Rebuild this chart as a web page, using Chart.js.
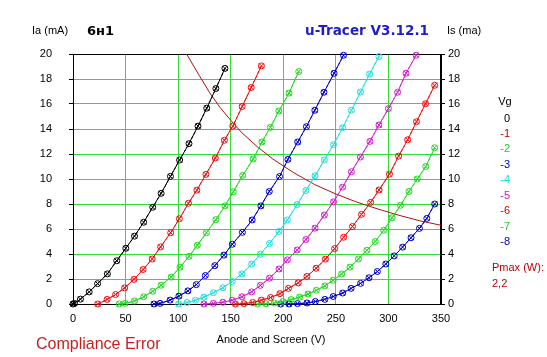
<!DOCTYPE html>
<html><head><meta charset="utf-8">
<script src="https://cdn.jsdelivr.net/npm/chart.js@4.4.1/dist/chart.umd.min.js"></script>
<style>html,body{margin:0;padding:0;background:#fff;}canvas{display:block;}</style>
</head><body>
<canvas id="c" width="547" height="357"></canvas>
<script>
// ---- data (Anode/screen voltage V, current mA) ----
const xTicks = [0, 50, 100, 150, 200, 250, 300, 350];
const yTicks = [0, 2, 4, 6, 8, 10, 12, 14, 16, 18, 20];
const vgLabels = ['0', '-1', '-2', '-3', '-4', '-5', '-6', '-7', '-8'];
const pmaxLabel = '2,2';

const vg0 = [[0,0],[1.5,0.05],[7.1,0.39],[15.4,0.97],[23.4,1.63],[32.7,2.41],[41.6,3.46],[50.2,4.46],[58.5,5.43],[67.2,6.54],[75.8,7.74],[83.8,8.85],[92.7,10.21],[101.4,11.52],[110.3,12.83],[118.9,14.23],[127.2,15.67],[135.9,17.24],[144.5,18.85]];
const vg1 = [[23.5,0],[32.5,0.37],[40.5,0.76],[49.1,1.29],[58,1.97],[66.7,2.76],[75.3,3.6],[83.3,4.57],[92.9,5.7],[101.2,6.82],[109.8,8.06],[117.8,9.11],[126.4,10.37],[135.4,11.68],[144,13.1],[152,14.23],[160.9,15.8],[169.5,17.32],[179.2,19.05]];
const vg2 = [[44,0],[49.6,0.05],[58.5,0.24],[67.2,0.58],[75.8,1.02],[83.8,1.5],[93.4,2.15],[101.7,2.94],[110.3,3.81],[118.3,4.7],[126.9,5.7],[135.9,6.75],[144.5,7.85],[152.5,8.98],[161.4,10.29],[171.4,11.6],[179.7,12.96],[187.7,14.13],[195.8,15.44],[205.4,16.87],[214.7,18.6]];
const vg3 = [[77,0],[82.8,0.05],[92.4,0.31],[100.7,0.63],[109.3,1.05],[117.3,1.55],[125.9,2.28],[134.9,3.07],[143.5,3.91],[151.5,4.78],[161.1,5.73],[170.4,6.72],[178.7,7.85],[186.7,9.0],[196.4,10.2],[204.4,11.57],[213.7,12.96],[222,14.19],[230,15.5],[238.7,16.94],[248.3,18.46],[257.3,19.9]];
const vg4 = [[100.5,0],[108.5,0.12],[116.5,0.3],[124.5,0.55],[133.5,0.9],[142.5,1.3],[151.5,1.8],[160.6,2.41],[169.9,3.19],[178.2,3.98],[186.9,4.84],[195.9,5.81],[203.9,6.73],[213.2,7.96],[221.5,9.08],[230.2,10.26],[239.1,11.52],[247.8,12.75],[256.4,14.1],[264.8,15.5],[273.4,16.96],[282.1,18.4],[291,19.8]];
const vg5 = [[124.5,0],[133.5,0.05],[142.5,0.14],[151.5,0.3],[160.6,0.58],[169.9,0.97],[178.2,1.49],[186.9,2.07],[195.9,2.8],[203.9,3.53],[213.2,4.32],[221.5,5.16],[230.2,6.07],[239.1,7.12],[247.8,8.17],[256.4,9.35],[264.8,10.58],[273.4,11.76],[282.4,13.01],[291,14.32],[300,15.63],[308.7,16.94],[316.7,18.46],[326.3,19.9]];
const vg6 = [[154.5,0],[162.5,0.03],[170.9,0.12],[179.2,0.31],[187.9,0.52],[196.9,0.83],[204.9,1.25],[214.2,1.69],[222.5,2.21],[231.2,2.86],[240.1,3.59],[248.8,4.43],[257.4,5.34],[265.8,6.2],[274.4,7.17],[283.1,8.13],[291.1,9.12],[301,10.39],[309.7,11.83],[318.3,13.14],[326.7,14.58],[335.3,16.02],[344,17.5]];
const vg7 = [[175.5,0],[183.5,0.02],[191.5,0.08],[199.5,0.2],[207.5,0.35],[215.5,0.55],[223.5,0.8],[231.5,1.1],[239.5,1.45],[247.5,1.9],[255.5,2.4],[263.5,2.95],[271.5,3.6],[279.5,4.3],[287.5,5.0],[295.5,5.9],[303.5,6.9],[311.5,7.9],[319.5,9.0],[327.5,10.0],[335.5,11.0],[344,12.5]];
const vg8 = [[197.5,0],[205.5,0],[213.5,0.03],[222.5,0.08],[230.5,0.2],[239.5,0.37],[247.5,0.6],[256.5,0.88],[264.5,1.25],[273.5,1.65],[281.5,2.1],[289.5,2.6],[297.5,3.2],[305.5,3.85],[313.5,4.55],[321.5,5.3],[329.5,6.05],[336.5,6.85],[344,8.0]];
const pmax = [[108,20],[120,18.3],[130,16.9],[140,15.7],[150,14.7],[160,13.75],[175,12.6],[190,11.6],[210,10.5],[230,9.55],[250,8.8],[270,8.15],[290,7.6],[310,7.1],[330,6.65],[350,6.3]];

const curves = [vg0, vg1, vg2, vg3, vg4, vg5, vg6, vg7, vg8];
const curveColors = ['#000000','#e81010','#22d822','#0000c8','#22dede','#d020d0','#e81010','#22d822','#0000c8'];
const legendColors = ['#000000','#c00000','#22c822','#0000a8','#10e0e0','#c020c0','#d00000','#22c822','#0000a8'];

const datasets = [];
curves.forEach((c, i) => {
  const pts = c.map(p => ({x: p[0], y: p[1]}));
  datasets.push({
    data: pts, showLine: true, borderColor: curveColors[i], borderWidth: 1,
    pointStyle: 'circle', pointRadius: 3, pointBorderColor: curveColors[i],
    pointBackgroundColor: 'rgba(0,0,0,0)', pointBorderWidth: 1, clip: 6
  });
  datasets.push({
    data: pts, showLine: true, borderColor: curveColors[i], borderWidth: 1, borderDash: [3, 2],
    pointStyle: 'crossRot', pointRadius: 3.5, pointBorderColor: curveColors[i],
    pointBorderWidth: 1, clip: 6
  });
});
datasets.push({
  data: pmax.map(p => ({x: p[0], y: p[1]})), showLine: true, borderColor: '#b01010',
  borderWidth: 1, pointRadius: 0, clip: 0
});

const GRID = '#33dd33';
const FONT = '"Liberation Sans", Arial, sans-serif';
Chart.defaults.font.family = FONT;
Chart.defaults.font.size = 11;
Chart.defaults.color = '#000';

const textPlugin = {
  id: 'texts',
  beforeDatasetsDraw(chart) {
    const {ctx, chartArea: a} = chart;
    ctx.save();
    ctx.strokeStyle = '#000'; ctx.lineWidth = 1;
    ctx.strokeRect(Math.round(a.left) + 0.5, Math.round(a.top) + 0.5, Math.round(a.right - a.left) - 1, Math.round(a.bottom - a.top));
    ctx.restore();
  },
  afterDraw(chart) {
    const ctx = chart.ctx;
    ctx.save();
    ctx.textBaseline = 'middle';
    ctx.textAlign = 'left';
    ctx.fillStyle = '#000';
    ctx.font = '11px ' + FONT;
    ctx.fillText('Ia (mA)', 32, 31);
    ctx.fillText('Is (ma)', 447, 31);
    ctx.font = 'bold 13px "DejaVu Sans", sans-serif';
    ctx.fillText('6н1', 87, 32);
    ctx.fillStyle = '#1e1ec8';
    ctx.font = 'bold 14px "DejaVu Sans", sans-serif';
    ctx.fillText('u-Tracer V3.12.1', 305, 31.5, 124);
    ctx.fillStyle = '#000';
    ctx.font = '11px ' + FONT;
    ctx.textAlign = 'center';
    ctx.fillText('Anode and Screen (V)', 271, 340);
    ctx.fillText('Vg', 505, 102);
    ctx.textAlign = 'right';
    vgLabels.forEach((t, i) => {
      ctx.fillStyle = legendColors[i];
      ctx.fillText(t, 510, 118.5 + i * 15.45);
    });
    ctx.textAlign = 'left';
    ctx.fillStyle = '#c00000';
    ctx.fillText('Pmax (W):', 492, 268);
    ctx.fillText(pmaxLabel, 492, 284);
    ctx.fillStyle = '#c81e1e';
    ctx.font = '16px ' + FONT;
    ctx.textBaseline = 'alphabetic';
    ctx.fillText('Compliance Error', 36, 349);
    ctx.restore();
  }
};

const gridColor = (lo, hi) => (c) => (c.tick && (c.tick.value === lo || c.tick.value === hi)) ? 'rgba(0,0,0,0)' : GRID;

new Chart(document.getElementById('c'), {
  type: 'scatter',
  data: { datasets },
  options: {
    responsive: false, animation: false, devicePixelRatio: 1,
    layout: { padding: { top: 54, left: 0, right: 0, bottom: 0 } },
    plugins: { legend: { display: false }, tooltip: { enabled: false } },
    scales: {
      x: {
        type: 'linear', min: xTicks[0], max: xTicks[xTicks.length - 1],
        afterBuildTicks: s => { s.ticks = xTicks.map(v => ({value: v})); },
        ticks: { padding: 8, color: '#000', font: { size: 11 } },
        grid: { color: gridColor(0, 350), drawTicks: false, lineWidth: 1 },
        border: { display: true, color: '#000' },
        afterFit: s => { s.height = 53; }
      },
      y: {
        position: 'left', min: 0, max: 20,
        afterBuildTicks: s => { s.ticks = yTicks.map(v => ({value: v})); },
        ticks: { padding: 17, color: '#000', font: { size: 11 } },
        grid: { color: gridColor(0, 20), tickColor: '#000', tickLength: 4 },
        border: { display: true, color: '#000' },
        afterFit: s => { s.width = 73; }
      },
      y2: {
        position: 'right', min: 0, max: 20,
        afterBuildTicks: s => { s.ticks = yTicks.map(v => ({value: v})); },
        ticks: { padding: 3, color: '#000', font: { size: 11 } },
        grid: { drawOnChartArea: false, tickColor: '#000', tickLength: 4 },
        border: { display: true, color: '#000' },
        afterFit: s => { s.width = 106; }
      }
    }
  },
  plugins: [textPlugin]
});
</script>
</body></html>
